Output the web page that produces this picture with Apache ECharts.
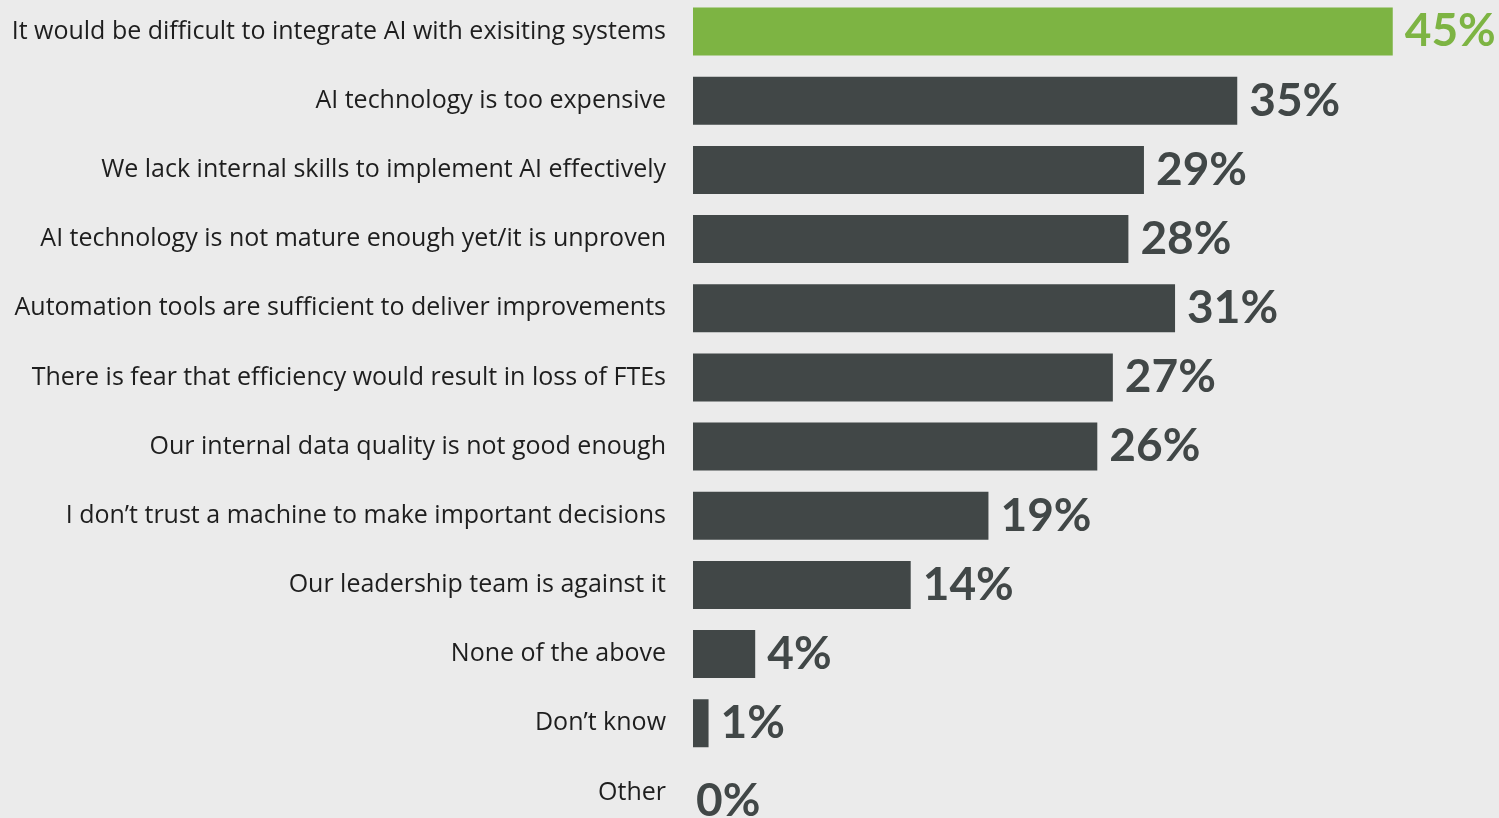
<!DOCTYPE html>
<html>
<head>
<meta charset="utf-8">
<script src="https://cdn.jsdelivr.net/npm/echarts@6/dist/echarts.min.js"></script>
<style>
html,body{margin:0;padding:0;background:#ebebeb;overflow:hidden;}
#chart{position:absolute;left:0;top:-2.8px;width:1499px;height:829.6px;}
</style>
</head>
<body>
<div id="chart"></div>
<script>
const categories = [
  "It would be difficult to integrate AI with exisiting systems",
  "AI technology is too expensive",
  "We lack internal skills to implement AI effectively",
  "AI technology is not mature enough yet/it is unproven",
  "Automation tools are sufficient to deliver improvements",
  "There is fear that efficiency would result in loss of FTEs",
  "Our internal data quality is not good enough",
  "I don\u2019t trust a machine to make important decisions",
  "Our leadership team is against it",
  "None of the above",
  "Don\u2019t know",
  "Other"
];
const values = [45, 35, 29, 28, 31, 27, 26, 19, 14, 4, 1, 0];
const highlighted = [true, false, false, false, false, false, false, false, false, false, false, false];

const GREEN = "#7db443";
const DARK = "#414747";

const chart = echarts.init(document.getElementById("chart"), null, {renderer: "canvas"});
chart.setOption({
  backgroundColor: "#ebebeb",
  animation: false,
  grid: {left: 693, right: 28.5, top: 0, bottom: 0, containLabel: false},
  xAxis: {
    type: "value", min: 0, max: 50,
    show: false
  },
  yAxis: {
    type: "category",
    data: categories,
    inverse: true,
    axisLine: {show: false},
    axisTick: {show: false},
    splitLine: {show: false},
    axisLabel: {
      margin: 27,
      fontSize: 25,
      fontFamily: "Open Sans",
      color: "#1e1e1e"
    }
  },
  series: [{
    type: "bar",
    barWidth: 48,
    data: values.map((v, i) => ({
      value: v,
      itemStyle: {color: highlighted[i] ? GREEN : DARK},
      label: v === 0
        ? {color: DARK, distance: 3, offset: [0, 9]}
        : {color: highlighted[i] ? GREEN : DARK}
    })),
    label: {
      show: true,
      position: "right",
      distance: 12,
      formatter: "{c}%",
      fontSize: 46,
      fontWeight: "bold",
      fontFamily: "Lato"
    }
  }]
});
</script>
</body>
</html>
